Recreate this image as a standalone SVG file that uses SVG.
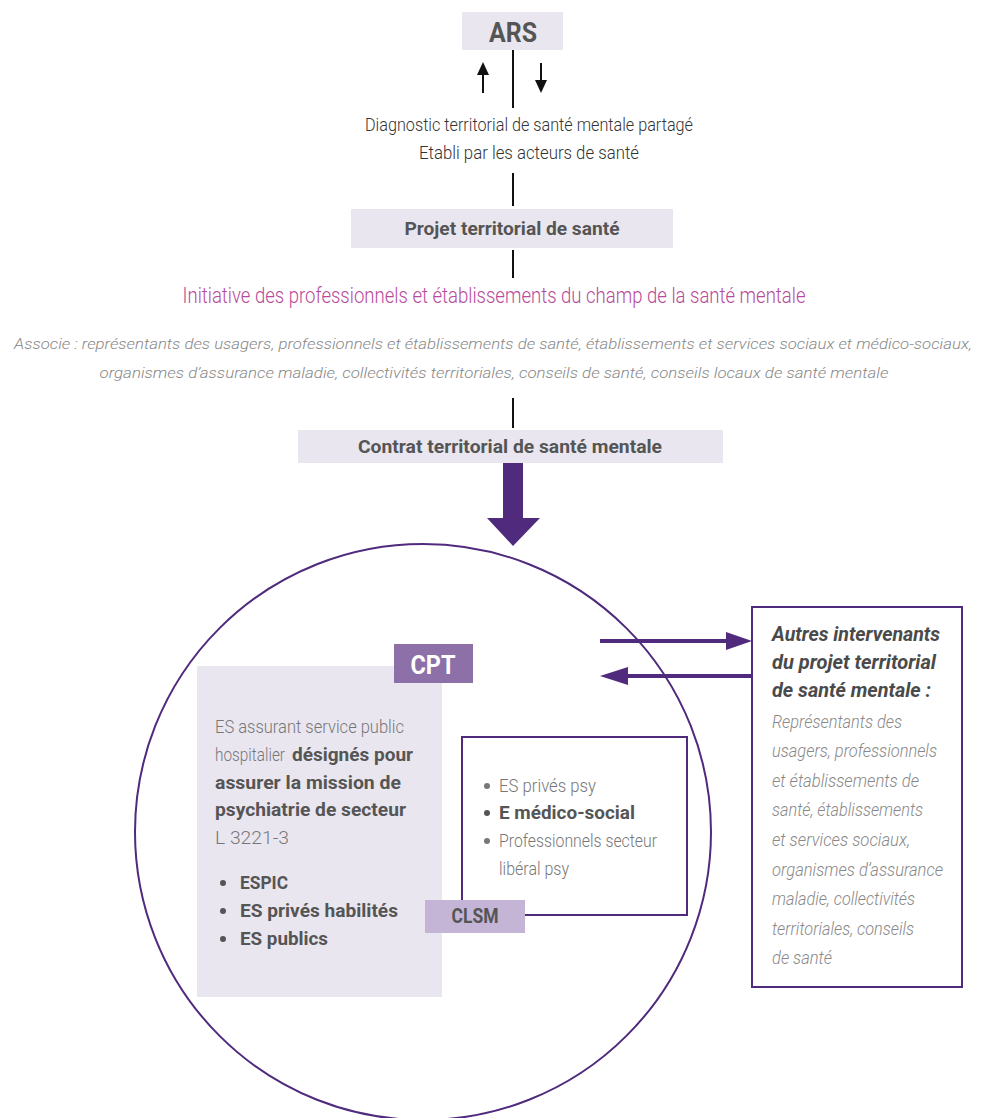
<svg xmlns="http://www.w3.org/2000/svg" width="981" height="1118" viewBox="0 0 981 1118">
<style>
text{font-family:Roboto,"Liberation Sans","DejaVu Sans",sans-serif;}
.box{fill:#e9e6f0;}
.bold{font-weight:bold;fill:#555;font-size:18.5px;}
.reg{font-weight:300;fill:#333;font-size:17.5px;}
.lt{font-weight:300;fill:#777;font-size:18.5px;}
.it{font-weight:300;font-style:italic;fill:#888;font-size:18.5px;}
.as{font-weight:300;font-style:italic;fill:#888;font-size:15.5px;}
.bi{font-weight:bold;font-style:italic;fill:#4a4a4a;font-size:19.5px;}
.mid{text-anchor:middle;}
.vl{stroke:#111;stroke-width:2;fill:none;}
.pl{stroke:#4f2a7d;fill:none;}
.pf{fill:#4f2a7d;}
.dot{fill:#555;}
</style>
<rect width="981" height="1118" fill="#ffffff"/>

<g id="connectors">
  <line class="vl" x1="513" y1="50" x2="513" y2="108"/>
  <line class="vl" x1="483" y1="93" x2="483" y2="72"/>
  <polygon points="477,75 489,75 483,62" fill="#111"/>
  <line class="vl" x1="541" y1="63" x2="541" y2="82"/>
  <polygon points="535,80 547,80 541,93" fill="#111"/>
  <line class="vl" x1="513" y1="173" x2="513" y2="206"/>
  <line class="vl" x1="513" y1="250" x2="513" y2="278"/>
  <line class="vl" x1="513" y1="398" x2="513" y2="428"/>
  <rect class="pf" x="503" y="463" width="20" height="56"/>
  <polygon class="pf" points="487,518 540,518 513,546"/>
  <line class="pl" x1="600" y1="641" x2="728" y2="641" stroke-width="4"/>
  <polygon class="pf" points="726,632 752,641 726,650"/>
  <line class="pl" x1="752" y1="676" x2="626" y2="676" stroke-width="4"/>
  <polygon class="pf" points="628,667 600,676 628,685"/>
</g>

<g id="ars">
  <rect class="box" x="462" y="12" width="101" height="38"/>
  <text class="mid" x="513" y="42" font-size="28" font-weight="bold" fill="#555" textLength="48" lengthAdjust="spacingAndGlyphs">ARS</text>
</g>

<g id="diagnostic">
  <text class="reg mid" x="529" y="131" textLength="328" lengthAdjust="spacingAndGlyphs">Diagnostic territorial de santé mentale partagé</text>
  <text class="reg mid" x="529" y="159" textLength="220" lengthAdjust="spacingAndGlyphs">Etabli par les acteurs de santé</text>
</g>

<g id="projet">
  <rect class="box" x="351" y="209" width="322" height="39"/>
  <text class="bold mid" x="512" y="235" textLength="215" lengthAdjust="spacingAndGlyphs">Projet territorial de santé</text>
</g>

<g id="initiative">
  <text class="mid" x="494" y="303" font-size="21.5" font-weight="300" fill="#b84a9a" textLength="623" lengthAdjust="spacingAndGlyphs">Initiative des professionnels et établissements du champ de la santé mentale</text>
</g>

<g id="associe">
  <text class="as mid" x="493" y="349" textLength="958" lengthAdjust="spacingAndGlyphs">Associe : représentants des usagers, professionnels et établissements de santé, établissements et services sociaux et médico-sociaux,</text>
  <text class="as mid" x="494" y="378" textLength="789" lengthAdjust="spacingAndGlyphs">organismes d’assurance maladie, collectivités territoriales, conseils de santé, conseils locaux de santé mentale</text>
</g>

<g id="contrat">
  <rect class="box" x="298" y="430" width="425" height="33"/>
  <text class="bold mid" x="510" y="453" textLength="304" lengthAdjust="spacingAndGlyphs">Contrat territorial de santé mentale</text>
</g>

<g id="territoire">
  <circle class="pl" cx="423" cy="832" r="288" stroke-width="2"/>
</g>

<g id="cpt-block">
  <rect class="box" x="197" y="666" width="245" height="331"/>
  <rect x="394" y="644" width="79" height="39" fill="#8e70a9"/>
  <text class="mid" x="433" y="674" font-size="26" font-weight="bold" fill="#ffffff" textLength="45" lengthAdjust="spacingAndGlyphs">CPT</text>
  <text class="lt" x="215" y="733" textLength="189" lengthAdjust="spacingAndGlyphs">ES assurant service public</text>
  <text class="lt" x="215" y="761" textLength="70" lengthAdjust="spacingAndGlyphs">hospitalier</text>
  <text class="bold" x="292" y="761" textLength="121" lengthAdjust="spacingAndGlyphs">désignés pour</text>
  <text class="bold" x="215" y="789" textLength="186" lengthAdjust="spacingAndGlyphs">assurer la mission de</text>
  <text class="bold" x="215" y="816" textLength="191" lengthAdjust="spacingAndGlyphs">psychiatrie de secteur</text>
  <text class="lt" x="215" y="844" textLength="74" lengthAdjust="spacingAndGlyphs">L 3221-3</text>
  <circle class="dot" cx="223" cy="883" r="3"/>
  <text class="bold" x="240" y="889" textLength="48" lengthAdjust="spacingAndGlyphs">ESPIC</text>
  <circle class="dot" cx="223" cy="911" r="3"/>
  <text class="bold" x="240" y="917" textLength="158" lengthAdjust="spacingAndGlyphs">ES privés habilités</text>
  <circle class="dot" cx="223" cy="939" r="3"/>
  <text class="bold" x="240" y="945" textLength="88" lengthAdjust="spacingAndGlyphs">ES publics</text>
</g>

<g id="clsm-block">
  <rect x="462" y="737" width="225" height="178" fill="#ffffff" stroke="#4f2a7d" stroke-width="2"/>
  <circle fill="#777" cx="487" cy="786" r="3"/>
  <text class="lt" x="499" y="792" textLength="97" lengthAdjust="spacingAndGlyphs">ES privés psy</text>
  <circle class="dot" cx="487" cy="813" r="3"/>
  <text class="bold" x="499" y="819" textLength="136" lengthAdjust="spacingAndGlyphs">E médico-social</text>
  <circle fill="#777" cx="487" cy="841" r="3"/>
  <text class="lt" x="499" y="847" textLength="158" lengthAdjust="spacingAndGlyphs">Professionnels secteur</text>
  <text class="lt" x="499" y="875" textLength="70" lengthAdjust="spacingAndGlyphs">libéral psy</text>
  <rect x="425" y="900" width="100" height="33" fill="#c4b5d6"/>
  <text class="bold mid" x="475" y="923" style="font-size:19.5px" textLength="47" lengthAdjust="spacingAndGlyphs">CLSM</text>
</g>

<g id="autres">
  <rect x="752" y="607" width="210" height="380" fill="#ffffff" stroke="#4f2a7d" stroke-width="2"/>
  <text class="bi" x="772" y="641" textLength="168" lengthAdjust="spacingAndGlyphs">Autres intervenants</text>
  <text class="bi" x="772" y="669" textLength="164" lengthAdjust="spacingAndGlyphs">du projet territorial</text>
  <text class="bi" x="772" y="697" textLength="159" lengthAdjust="spacingAndGlyphs">de santé mentale :</text>
  <text class="it" x="772" y="728" textLength="130" lengthAdjust="spacingAndGlyphs">Représentants des</text>
  <text class="it" x="772" y="757" textLength="165" lengthAdjust="spacingAndGlyphs">usagers, professionnels</text>
  <text class="it" x="772" y="787" textLength="147" lengthAdjust="spacingAndGlyphs">et établissements de</text>
  <text class="it" x="772" y="816" textLength="151" lengthAdjust="spacingAndGlyphs">santé, établissements</text>
  <text class="it" x="772" y="846" textLength="138" lengthAdjust="spacingAndGlyphs">et services sociaux,</text>
  <text class="it" x="772" y="876" textLength="171" lengthAdjust="spacingAndGlyphs">organismes d’assurance</text>
  <text class="it" x="772" y="905" textLength="143" lengthAdjust="spacingAndGlyphs">maladie, collectivités</text>
  <text class="it" x="772" y="935" textLength="142" lengthAdjust="spacingAndGlyphs">territoriales, conseils</text>
  <text class="it" x="772" y="964" textLength="60" lengthAdjust="spacingAndGlyphs">de santé</text>
</g>
</svg>
